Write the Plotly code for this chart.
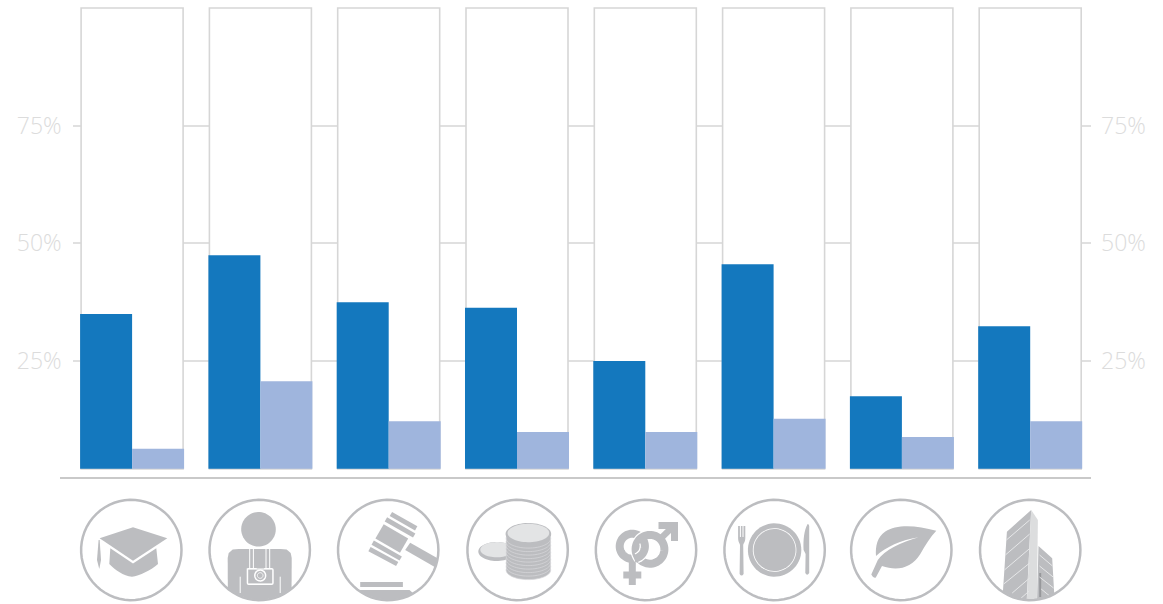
import re
import numpy as np
import plotly.graph_objects as go

# ---------- data ----------
groups = [0, 1, 2, 3, 4, 5, 6, 7]
dark_values = [34.9, 47.4, 37.4, 36.2, 24.9, 45.5, 17.4, 32.3]
light_values = [6.2, 20.6, 12.1, 9.8, 9.8, 12.6, 8.7, 12.1]
frame_values = [100, 100, 100, 100, 100, 100, 100, 100]
baseline = 1.95
tick_values = [25, 50, 75]
tick_labels = ["25%", "50%", "75%"]

# ---------- page layout in pixels ----------
W, H = 1163, 604
PX_LEFT, PX_RIGHT = 72.7, 1091
PX_TOP, PX_BOTTOM = 3.3, 478
Y_MAX = 101
PERIOD = 128.3
X0_PX = 132.1  # centre of first group
x_range = [(PX_LEFT - X0_PX) / PERIOD, (PX_RIGHT - X0_PX) / PERIOD]

GREY = "#bcbdc0"
LIGHT_GREY = "#e3e4e5"
STRIP = "#dcddde"
TICK_FONT = dict(family="Open Sans", size=23, color="#dcdcdc", weight=300)


def px(x, y):
    return x / W, 1 - y / H


def tr(d, cx, cy):
    """Map a path written in pixels around an icon centre to paper coordinates."""
    toks = re.findall(r"[MLCQZ]|-?\d+\.?\d*", d)
    out, nums = [], []
    for t in toks:
        if t.isalpha():
            out.append(t)
        else:
            nums.append(float(t))
            if len(nums) == 2:
                a, b = px(cx + nums[0], cy + nums[1])
                out.append(f"{a:.5f},{b:.5f}")
                nums = []
    return " ".join(out)


def poly(pts, close=True):
    s = "M " + " L ".join(f"{x:.2f} {y:.2f}" for x, y in pts)
    return s + (" Z" if close else "")


def ellipse_pts(x, y, rx, ry, a0=0, a1=360, n=60):
    t = np.radians(np.linspace(a0, a1, n))
    return list(zip(x + rx * np.cos(t), y + ry * np.sin(t)))


shapes = []


def fill(d, cx, cy, color=GREY):
    shapes.append(dict(type="path", xref="paper", yref="paper", layer="above",
                       path=tr(d, cx, cy), fillcolor=color, line=dict(width=0)))


def stroke(d, cx, cy, color=GREY, width=1.0):
    shapes.append(dict(type="path", xref="paper", yref="paper", layer="above",
                       path=tr(d, cx, cy), fillcolor="rgba(0,0,0,0)",
                       line=dict(color=color, width=width)))


def disc(x, y, r, cx, cy, color=GREY, ry=None):
    fill(poly(ellipse_pts(x, y, r, ry if ry else r)), cx, cy, color)


def ring(x, y, r, cx, cy, color=GREY, width=1.0, a0=0, a1=360):
    closed = (a1 - a0) == 360
    stroke(poly(ellipse_pts(x, y, r, r, a0, a1), close=closed), cx, cy, color, width)


def rim(a0, a1, r=49.6):
    return ellipse_pts(0, 0, r, r, a0, a1, 24)


CY = 550


def icon_cap(c):
    fill("M -31.7 -11.7 L 1.7 -22.7 L 36 -11.7 L 1.7 10.7 Z", c, CY)
    fill("M -21 -1.7 L 1.7 13.5 L 25 -1.7 L 26.7 14 C 20 20 8 26 0.7 26.7 "
         "C -8 26 -16 20 -22 14 Z", c, CY)
    fill("M -32.7 -10 L -31.6 -10 L -30.3 10 L -32 19 L -34.3 10 Z", c, CY)


def icon_person(c):
    disc(-1.2, -20.7, 17.3, c, CY)
    body = [(-32, 8), (-31, 3), (-27, -0.5), (-21, -1), (21, -1), (27, -0.5), (31, 3), (32, 8)]
    body += rim(50, 130)
    fill(poly(body), c, CY)
    for x in (-10, -6.3, 6.3, 10):
        stroke(f"M {x} -1 L {x} 18", c, CY, "#ffffff", 1)
    fill("M -13 18.5 Q -13 18 -11 18 L 12 18 Q 14 18 14 20 L 14 33 Q 14 35 12 35 "
         "L -11 35 Q -13 35 -13 33 Z", c, CY, "#ffffff")
    fill("M -11.5 19.6 L 12.5 19.6 L 12.5 33.4 L -11.5 33.4 Z", c, CY)
    fill("M -3 15.8 L 4.5 15.8 L 4.5 18.5 L -3 18.5 Z", c, CY)
    ring(0.5, 25.5, 5.4, c, CY, "#ffffff", 1.5)
    ring(0.5, 25.5, 2.8, c, CY, "#ffffff", 1)
    for x in (-19.5, 20.5):
        stroke(f"M {x} 26.7 L {x} 43", c, CY, "#ffffff", 1)


def icon_gavel(c):
    fill("M 22 -7.3 L 49.3 8.3 L 47 17.3 L 17 0 Z", c, CY)
    fill("M -4.5 -25.7 L 20 -11.5 L 11.8 2.7 L -12.8 -11.5 Z", c, CY)
    for a, b in (((2.7, -36), (28, -21.7)), ((-2.3, -30.7), (26, -14.5)),
                 ((-15.5, -7.3), (12.5, 8.5)), ((-18.7, -0.8), (9, 14))):
        stroke(f"M {a[0]} {a[1]} L {b[0]} {b[1]}", c, CY, GREY, 4.8)
    fill("M -28 32 L 14.7 32 L 14.7 37 L -28 37 Z", c, CY)
    base = [(-31, 40), (21.3, 40), (24.7, 43)] + rim(60, 128)
    fill(poly(base), c, CY)


def icon_coins(c):
    disc(-20.8, 1.5, 18.5, c, CY, GREY, ry=9.5)
    disc(-20.8, -0.3, 16.5, c, CY, LIGHT_GREY, ry=7.6)
    for y in [20, 16.5, 13, 9.5, 6, 2.5, -1, -4.5, -8, -11.5]:
        shapes.append(dict(type="path", xref="paper", yref="paper", layer="above",
                           path=tr(poly(ellipse_pts(10.8, y, 22.3, 9.6)), c, CY),
                           fillcolor=GREY, line=dict(color="#d8d9db", width=0.7)))
    disc(10.8, -16, 22.8, c, CY, GREY, ry=11)
    disc(10.8, -17, 20.8, c, CY, LIGHT_GREY, ry=9.2)


def icon_gender(c):
    f, m = (-13.7, -3.7), (4, -0.7)
    w = 8
    ring(*f, 12.6, c, CY, GREY, w)
    stroke("M -13.7 12 L -13.7 35", c, CY, GREY, 7)
    stroke("M -22.7 25 L -4.7 25", c, CY, GREY, 7)
    ring(*m, 14.4, c, CY, "#ffffff", w + 2.5, a0=-150, a1=170)
    ring(*m, 14.4, c, CY, GREY, w)
    stroke("M 14.7 -11.5 L 27 -23.5", c, CY, GREY, 6.5)
    stroke("M 12.5 -24.5 L 28.5 -24.5 L 28.5 -9", c, CY, GREY, 7)
    ring(*f, 12.6, c, CY, "#ffffff", w + 2.5, a0=-20, a1=70)
    ring(*f, 12.6, c, CY, GREY, w, a0=-30, a1=80)


def icon_plate(c):
    disc(0, 0, 26.7, c, CY)
    disc(0, 0, 21.8, c, CY, "#ffffff")
    disc(0, 0, 21, c, CY)
    fill("M -36.5 -24 L -36.5 -12 C -36.5 -8 -35 -7 -34.6 -5 L -35 24 Q -33 27 -31 24 "
         "L -31.4 -5 C -31 -7 -29.3 -8 -29.3 -12 L -29.3 -24 L -29.3 -24 Z", c, CY)
    for x in (-34.2, -31.6):
        stroke(f"M {x} -25 L {x} -13", c, CY, "#ffffff", 1)
    fill("M 33 -26 C 29.5 -20 28.5 -10 29 0 L 31 4 L 30.7 23 Q 32.5 26.5 34.6 23 "
         "L 34.6 -24 Q 34.4 -26 33 -26 Z", c, CY)


def icon_leaf(c):
    fill("M 35 -19.3 C 15 -25 -5 -26 -16 -18.5 C -24 -13 -26 -4 -25.3 6 "
         "C -16 -3 0 -10 17.3 -12.8 C 0 -8 -17 0 -23.5 10 L -30 24.5 "
         "Q -28 28.5 -25.5 27.5 L -19.3 16 C -5 21 10 19 19 4 C 24 -5 29 -13 35 -19.3 Z", c, CY)


def icon_building(c):
    left = [(1, -40), (-23.3, -18.3), (-27.3, 41.7)] + rim(123, 94) + [(1, -40)]
    fill(poly(left), c, CY)
    right = [(8.3, -4), (22, 8.3), (24, 43.4)] + rim(61, 82)
    fill(poly(right), c, CY)
    fill(poly([(1, -40), (7.7, -30), (6.7, 49.1), (-3.3, 49.4)]), c, CY, STRIP)
    stroke("M 10 23 L 10 47", c, CY, "#97989b", 2)
    for a, b, d, e in [(-23.8, -10, -0.5, -30), (-24.8, 5, -0.5, -16), (-25.8, 20, -0.5, -1.5),
                       (-26.5, 34, -0.5, 13), (-18, 43, -0.5, 28), (-9, 48, -1, 41)]:
        stroke(f"M {a} {b} L {d} {e}", c, CY, "#e6e7e8", 1)
    for a, b, d, e in [(9.3, 5, 22.3, 16), (9.3, 16, 22.9, 27), (9.3, 27, 23.4, 38), (11, 39, 19.5, 46)]:
        stroke(f"M {a} {b} L {d} {e}", c, CY, "#e6e7e8", 1)


icon_fns = [icon_cap, icon_person, icon_gavel, icon_coins,
            icon_gender, icon_plate, icon_leaf, icon_building]
icon_centres = [131.3, 259.7, 388.2, 517.6, 646, 774.6, 901.3, 1030.2]

for fn, c in zip(icon_fns, icon_centres):
    fn(c)
    ring(0, 0, 50.2, c, CY, GREY, 2.5)

# baseline rule, running past the plot on the left
xa, ya = px(60, 478)
xb, _ = px(1091, 478)
shapes.append(dict(type="line", xref="paper", yref="paper", x0=xa, x1=xb, y0=ya, y1=ya,
                   layer="above", line=dict(color="#c9c9c9", width=2)))

# ---------- figure ----------
frame_width = 102 / PERIOD
bar_width = 52 / PERIOD

fig = go.Figure()
fig.add_bar(x=groups, y=[v - baseline for v in frame_values], base=baseline,
            width=frame_width, marker=dict(color="#ffffff", line=dict(color="#d6d6d6", width=1.6)),
            showlegend=False, hoverinfo="skip")
fig.add_bar(x=groups, y=[v - baseline for v in dark_values], base=baseline,
            width=bar_width, offset=-bar_width, marker=dict(color="#1478be", line=dict(width=0)),
            name="Series 1", showlegend=False)
fig.add_bar(x=groups, y=[v - baseline for v in light_values], base=baseline,
            width=bar_width, offset=0, marker=dict(color="#9fb5dd", line=dict(width=0)),
            name="Series 2", showlegend=False)
# invisible carrier for the right-hand axis labels
fig.add_scatter(x=groups, y=frame_values, yaxis="y2", mode="none",
                showlegend=False, hoverinfo="skip")

x_dom = [PX_LEFT / W, PX_RIGHT / W]
y_dom = [1 - PX_BOTTOM / H, 1 - PX_TOP / H]

fig.update_layout(
    width=W, height=H,
    margin=dict(l=0, r=0, t=0, b=0),
    paper_bgcolor="#ffffff", plot_bgcolor="#ffffff",
    barmode="overlay",
    shapes=shapes,
    xaxis=dict(domain=x_dom, range=x_range, visible=False, fixedrange=True),
    yaxis=dict(domain=y_dom, range=[0, Y_MAX], tickvals=tick_values, ticktext=tick_labels,
               showgrid=True, gridcolor="#e0e0e0", gridwidth=1.5, zeroline=False, showline=False,
               ticks="", tickfont=TICK_FONT, ticklabelstandoff=10, fixedrange=True),
    yaxis2=dict(domain=y_dom, range=[0, Y_MAX], overlaying="y", side="right",
                anchor="x", tickvals=tick_values, ticktext=tick_labels, showgrid=False,
                zeroline=False, showline=False, ticks="", tickfont=TICK_FONT,
                ticklabelstandoff=9, fixedrange=True),
)

fig.write_html("out.html", config=dict(displayModeBar=False),
               post_script="document.body.style.margin='0';document.documentElement.style.overflow='hidden';")
